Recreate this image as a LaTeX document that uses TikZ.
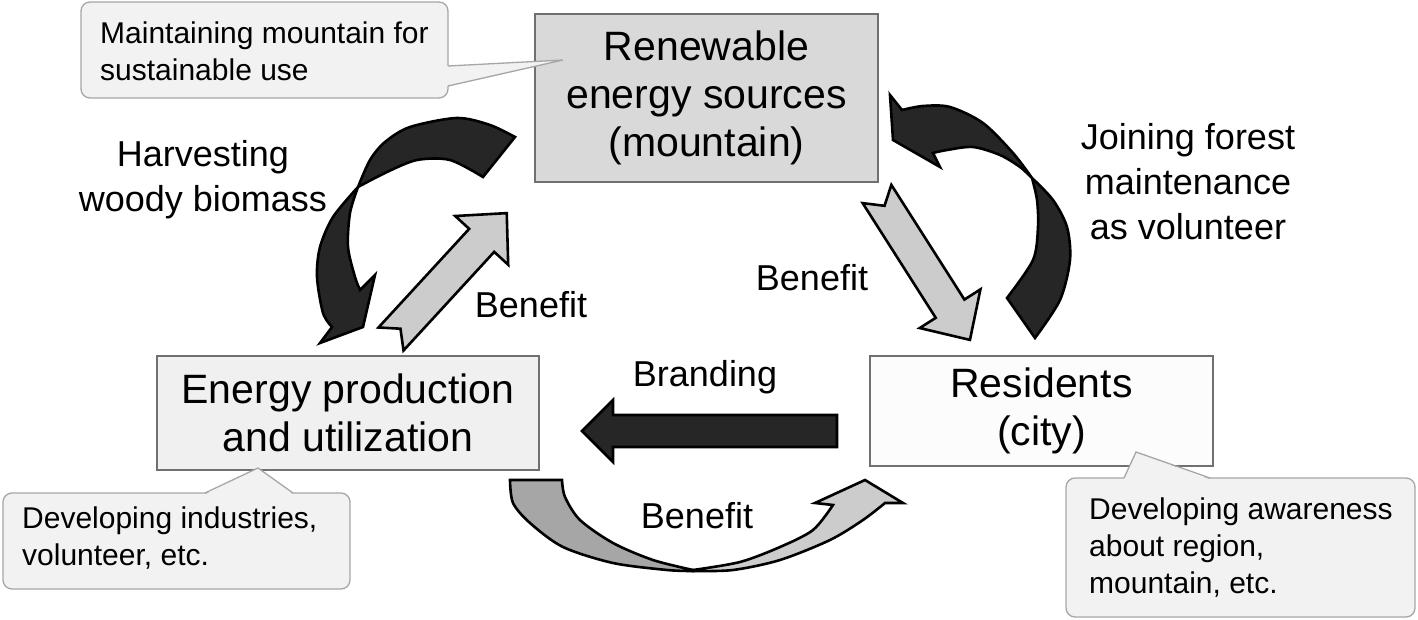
\documentclass[tikz,border=0pt]{standalone}
\usepackage{fontspec}
\setmainfont{Liberation Sans}
\definecolor{darkfill}{HTML}{262626}
\definecolor{lightfill}{HTML}{CCCCCC}
\definecolor{midfill}{HTML}{A6A6A6}
\definecolor{renfill}{HTML}{D9D9D9}
\definecolor{enefill}{HTML}{F0F0F0}
\definecolor{resfill}{HTML}{FCFCFC}
\definecolor{boxline}{HTML}{707070}
\definecolor{balfill}{HTML}{F2F2F2}
\definecolor{balline}{HTML}{A6A6A6}
\begin{document}
\begin{tikzpicture}[x=1pt,y=-1pt,
  box/.style={draw=boxline, line width=1.6pt, align=center, font=\fontsize{41}{48}\selectfont, inner sep=0pt},
  balloon/.style={fill=balfill, draw=balline, line width=1.3pt, rounded corners=9pt},
  balltail/.style={draw=balline, line width=1.3pt, line join=miter},
  baltext/.style={font=\fontsize{30}{37}\selectfont, align=left, anchor=west, inner sep=0pt},
  lbl/.style={font=\fontsize{36}{45}\selectfont, align=center, inner sep=0pt},
  darkshape/.style={fill=darkfill, draw=black, line width=2.6pt, line join=miter},
  lightshape/.style={fill=lightfill, draw=black, line width=2.6pt, line join=miter},
  midshape/.style={fill=midfill, draw=black, line width=2.6pt, line join=miter}]
\fill[white] (0,0) rectangle (1418,620);
\useasboundingbox (0,0) rectangle (1418,620);

% ---- curved dark arrow (harvesting) ----
\filldraw[darkshape] plot[smooth] coordinates {(483,177) (450,160) (417,160) (387,172) (358,187)}
  -- plot[smooth] coordinates {(358,187) (350,213) (348,247) (355,277) (360,290)}
  -- (375,275) -- (363,327) -- (320,343) -- (332,327)
  -- plot[smooth] coordinates {(332,327) (323,313) (317,277) (320,247) (333,217) (358,187)}
  -- plot[smooth] coordinates {(358,187) (370,160) (385,142) (410,127) (457,118) (490,125) (515,137)}
  -- cycle;

% ---- curved dark arrow (volunteer) ----
\filldraw[darkshape] plot[smooth] coordinates {(1007,298) (1033,260) (1038,227) (1037,200) (1032,178)}
  -- plot[smooth] coordinates {(1032,178) (1013,153) (983,123) (950,107) (923,106) (902,110)}
  -- (890,95) -- (893,140) -- (940,167) -- (933,153)
  -- plot[smooth] coordinates {(933,153) (947,150) (973,147) (1000,155) (1020,167) (1032,178)}
  -- plot[smooth] coordinates {(1032,178) (1053,200) (1067,227) (1070,260) (1060,300) (1035,338)}
  -- cycle;

% ---- bottom curved arrow (benefit) ----
\filldraw[midshape] plot[smooth] coordinates {(510,480) (513,503) (530,523) (563,547) (613,563) (667,570) (693,571)}
  -- plot[smooth] coordinates {(693,570) (653,560) (613,543) (580,520) (565,497) (562,480)} -- cycle;
\filldraw[lightshape] plot[smooth] coordinates {(693,571) (733,570) (780,560) (830,540) (863,520) (885,503)}
  -- (903,503) -- (865,480) -- (815,503) -- (833,505)
  -- plot[smooth] coordinates {(833,505) (813,530) (780,547) (740,562) (693,570)} -- cycle;

% ---- branding arrow ----
\filldraw[darkshape] (837,415) -- (613,415) -- (613,400) -- (582,431) -- (613,462) -- (613,447) -- (837,447) -- cycle;

% ---- straight benefit arrows ----
\begin{scope}[shift={(391,339)}, rotate=47.4]
\filldraw[lightshape] (0,-17) -- (134,-17) -- (134,-36) -- (171,0) -- (134,36) -- (134,17) -- (0,17) -- (14,0) -- cycle;
\end{scope}
\begin{scope}[shift={(877,194)}, rotate=-57.5]
\filldraw[lightshape] (0,-17) -- (136,-17) -- (136,-36) -- (173,0) -- (136,36) -- (136,17) -- (0,17) -- (14,0) -- cycle;
\end{scope}

% ---- main boxes ----
\node[box, fill=renfill, minimum width=343pt, minimum height=168pt] (ren) at (706.5,98) {Renewable\\energy sources\\(mountain)};
\node[box, fill=enefill, minimum width=382pt, minimum height=114pt] (ene) at (348,413) {Energy production\\and utilization};
\node[box, fill=resfill, minimum width=343pt, minimum height=110pt] (res) at (1041.5,411) {Residents\\(city)};

% ---- callouts ----
\filldraw[balloon] (81,2) rectangle (448,98);
\fill[balfill] (446.5,66) -- (563,60) -- (446.5,86) -- cycle;
\draw[balltail] (448,66) -- (563,60) -- (448,86);
\node[baltext] (c1) at (100,51) {Maintaining mountain for\\sustainable use};

\filldraw[balloon] (3,493) rectangle (350,589);
\fill[balfill] (205,494.5) -- (258,468) -- (293,494.5) -- cycle;
\draw[balltail] (205,493) -- (258,468) -- (293,493);
\node[baltext] (c2) at (22,538) {Developing industries,\\volunteer, etc.};

\filldraw[balloon] (1066,478) rectangle (1415,617);
\fill[balfill] (1124,479.5) -- (1136,452) -- (1210,479.5) -- cycle;
\draw[balltail] (1124,478) -- (1136,452) -- (1210,478);
\node[baltext] (c3) at (1089,548) {Developing awareness\\about region,\\mountain, etc.};

% ---- labels ----
\node[lbl] (harv) at (203,180) {Harvesting\\woody biomass};
\node[lbl] (join) at (1188,182) {Joining forest\\maintenance\\as volunteer};
\node[lbl] (b1) at (531,305) {Benefit};
\node[lbl] (b2) at (812,278) {Benefit};
\node[lbl] (b3) at (697,516) {Benefit};
\node[lbl] (brand) at (705,377) {Branding};
\end{tikzpicture}
\end{document}
